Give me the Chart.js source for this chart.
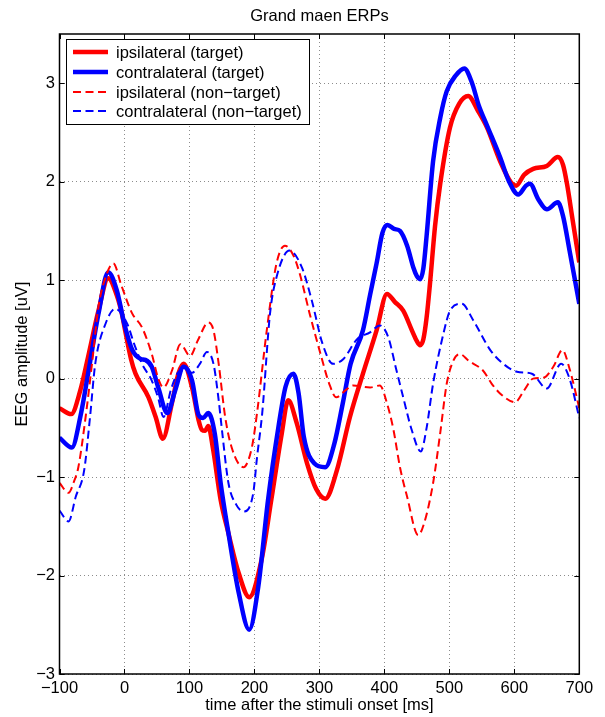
<!DOCTYPE html>
<html>
<head>
<meta charset="utf-8">
<script src="https://cdn.jsdelivr.net/npm/chart.js@4.4.1/dist/chart.umd.min.js"></script>
<style>
  html, body { margin: 0; padding: 0; background: #fff; }
  #wrap { width: 605px; height: 717px; position: relative; }
</style>
</head>
<body>
<div id="wrap"><canvas id="c" width="605" height="717"></canvas></div>
<script>
// ---- Data ----
const chartTitle = 'Grand maen ERPs';
const xTitle = 'time after the stimuli onset [ms]';
const yTitle = 'EEG amplitude [uV]';
const xTicks = [-100, 0, 100, 200, 300, 400, 500, 600, 700];
const yTicks = [-3, -2, -1, 0, 1, 2, 3];
const seriesNames = ['ipsilateral (target)', 'contralateral (target)', 'ipsilateral (non\u2212target)', 'contralateral (non\u2212target)'];

// ipsilateral (target)
const tIpsiT = [-100,-82,-68,-56,-40,-25,-12,-4,1,10,17,37,48,59,73,83,91,104,114,119,124,129,136,148,160,176,192,211,226,242,252,265,281,295,309,327,347,367,388,404,416,429,443,450,455,460,465,470,478,486,501,515,529,544,558,578,595,603,615,629,650,667,675,681,690,700];
const vIpsiT = [-0.30,-0.36,-0.12,0.22,0.69,1.02,0.85,0.66,0.49,0.20,0.05,-0.19,-0.39,-0.61,-0.25,0.05,0.15,-0.09,-0.42,-0.52,-0.53,-0.48,-0.70,-1.23,-1.57,-1.98,-2.22,-1.84,-1.23,-0.56,-0.22,-0.45,-0.86,-1.12,-1.22,-0.93,-0.39,0.05,0.49,0.86,0.78,0.69,0.48,0.38,0.34,0.40,0.62,0.95,1.55,1.98,2.55,2.79,2.87,2.72,2.55,2.21,1.99,1.96,2.07,2.13,2.16,2.25,2.17,1.98,1.60,1.18];

// contralateral (target)
const tContraT = [-100,-81,-68,-56,-40,-25,-12,0,12,25,32,42,52,66,78,91,104,114,121,129,139,148,160,176,192,206,221,237,248,260,268,276,292,309,323,336,348,367,378,388,397,405,415,424,435,445,450,455,460,465,475,486,496,510,523,535,545,558,578,592,606,618,624,637,650,667,675,685,700];
const vContraT = [-0.60,-0.70,-0.39,0.05,0.66,1.08,0.90,0.55,0.29,0.20,0.19,0.12,-0.09,-0.35,-0.12,0.12,-0.02,-0.37,-0.40,-0.35,-0.56,-1.06,-1.57,-2.18,-2.55,-2.11,-1.23,-0.49,-0.08,0.05,-0.15,-0.59,-0.86,-0.90,-0.66,-0.25,0.15,0.49,0.85,1.17,1.48,1.56,1.52,1.50,1.35,1.12,1.04,1.01,1.12,1.45,2.21,2.65,2.92,3.08,3.15,3.00,2.78,2.57,2.25,2.00,1.87,1.96,1.98,1.82,1.72,1.79,1.65,1.30,0.76];

// ipsilateral (non-target)
const tIpsiN = [-100,-86,-78,-71,-60,-50,-40,-28,-17,-5,12,27,42,52,60,73,86,101,113,129,137,145,155,165,183,196,204,219,234,247,260,270,285,303,315,326,340,352,378,393,404,414,424,435,452,462,475,486,496,506,516,530,552,565,578,601,615,629,645,660,674,685,700];
const vIpsiN = [-1.06,-1.16,-1.05,-0.90,-0.40,0.15,0.73,1.05,1.17,0.95,0.66,0.52,0.25,0.00,-0.09,0.08,0.35,0.23,0.39,0.57,0.49,0.15,-0.39,-0.70,-0.90,-0.70,-0.35,0.49,1.17,1.35,1.25,1.06,0.66,0.22,-0.05,-0.19,-0.12,-0.07,-0.09,-0.07,-0.25,-0.52,-0.90,-1.20,-1.59,-1.45,-1.06,-0.55,-0.05,0.18,0.25,0.18,0.08,-0.05,-0.15,-0.24,-0.12,0.00,0.01,0.12,0.29,0.10,-0.30];

// contralateral (non-target)
const tContraN = [-100,-86,-75,-62,-53,-45,-29,-14,4,15,27,42,52,60,72,86,104,116,127,137,145,150,160,172,183,198,204,212,224,234,254,273,288,305,321,337,358,378,393,406,418,429,442,456,465,475,491,501,519,537,563,583,604,627,650,672,685,700];
const vContraN = [-1.34,-1.45,-1.20,-0.93,-0.39,0.15,0.56,0.71,0.56,0.35,0.15,-0.02,-0.20,-0.39,-0.10,0.08,0.06,0.15,0.27,0.15,-0.22,-0.52,-1.06,-1.28,-1.35,-1.17,-0.80,-0.35,0.66,1.03,1.30,1.13,0.80,0.35,0.15,0.20,0.40,0.47,0.54,0.42,0.10,-0.19,-0.52,-0.74,-0.50,-0.05,0.46,0.69,0.76,0.59,0.29,0.15,0.07,0.05,-0.10,0.15,0.00,-0.40];

// ---- Styling ----
const FONT = '"Liberation Sans", Arial, Helvetica, sans-serif';
const FS = 16.5;
const RED = '#ff0000', BLUE = '#0000ff';
const SOLID_W = 4.5, DASH_W = 2, DASH = [8, 4.5];

function pts(t, v) { return t.map((x, i) => ({ x: x, y: v[i] })); }

const styles = [
  { color: RED, width: SOLID_W, dash: [] },
  { color: BLUE, width: SOLID_W, dash: [] },
  { color: RED, width: DASH_W, dash: DASH },
  { color: BLUE, width: DASH_W, dash: DASH }
];
const dataPairs = [[tIpsiT, vIpsiT], [tContraT, vContraT], [tIpsiN, vIpsiN], [tContraN, vContraN]];

const datasets = dataPairs.map((p, i) => ({
  label: seriesNames[i],
  data: pts(p[0], p[1]),
  borderColor: styles[i].color,
  backgroundColor: styles[i].color,
  borderWidth: styles[i].width,
  borderDash: styles[i].dash,
  borderJoinStyle: 'round',
  pointRadius: 0,
  fill: false,
  cubicInterpolationMode: 'monotone',
  order: 3 - i
}));

const framePlugin = {
  id: 'frame',
  afterDraw(chart) {
    const { ctx, chartArea: a, scales } = chart;
    ctx.save();
    // inward ticks
    ctx.strokeStyle = '#000';
    ctx.lineWidth = 1;
    const tl = 5;
    xTicks.forEach(v => {
      const x = Math.round(scales.x.getPixelForValue(v)) + 0.5;
      ctx.beginPath();
      ctx.moveTo(x, a.bottom); ctx.lineTo(x, a.bottom - tl);
      ctx.moveTo(x, a.top); ctx.lineTo(x, a.top + tl);
      ctx.stroke();
    });
    yTicks.forEach(v => {
      const y = Math.round(scales.y.getPixelForValue(v)) + 0.5;
      ctx.beginPath();
      ctx.moveTo(a.left, y); ctx.lineTo(a.left + tl, y);
      ctx.moveTo(a.right, y); ctx.lineTo(a.right - tl, y);
      ctx.stroke();
    });
    // box
    ctx.lineWidth = 1.5;
    ctx.strokeRect(a.left, a.top, a.right - a.left, a.bottom - a.top);
    // title
    ctx.fillStyle = '#000';
    ctx.font = FS + 'px ' + FONT;
    ctx.textAlign = 'center';
    ctx.textBaseline = 'middle';
    ctx.fillText(chartTitle, (a.left + a.right) / 2, 16);
    // legend
    const lx = 66, ly = 39, lw = 243, lh = 85;
    ctx.fillStyle = '#fff';
    ctx.fillRect(lx, ly, lw, lh);
    ctx.lineWidth = 1;
    ctx.strokeStyle = '#000';
    ctx.strokeRect(lx + 0.5, ly + 0.5, lw, lh);
    const rows = [52, 72, 92, 111];
    rows.forEach((ry, i) => {
      const s = styles[i];
      ctx.beginPath();
      ctx.strokeStyle = s.color;
      ctx.lineWidth = s.width;
      ctx.setLineDash(s.dash);
      ctx.moveTo(73, ry); ctx.lineTo(108, ry);
      ctx.stroke();
      ctx.setLineDash([]);
      ctx.fillStyle = '#000';
      ctx.textAlign = 'left';
      ctx.textBaseline = 'middle';
      ctx.fillText(seriesNames[i], 116, ry + 1);
    });
    ctx.restore();
  }
};

new Chart(document.getElementById('c'), {
  type: 'line',
  data: { datasets: datasets },
  options: {
    responsive: false,
    animation: false,
    devicePixelRatio: 1,
    layout: { padding: { top: 34, right: 25.7, left: 0, bottom: 0 } },
    plugins: { legend: { display: false }, tooltip: { enabled: false }, title: { display: false } },
    scales: {
      x: {
        type: 'linear',
        min: -100, max: 700,
        afterBuildTicks: s => { s.ticks = xTicks.map(v => ({ value: v })); },
        afterFit: s => { s.height = 43; },
        grid: { color: 'rgba(0,0,0,0.45)', borderDash: [1, 3], drawTicks: false, lineWidth: 1 },
        border: { display: false, dash: [1, 3] },
        ticks: { color: '#000', font: { family: FONT, size: FS }, padding: 5, maxRotation: 0,
                 callback: v => String(v).replace('-', '\u2212') },
        title: { display: true, text: xTitle, color: '#000', font: { family: FONT, size: FS }, padding: { top: 0, bottom: 2 } }
      },
      y: {
        type: 'linear',
        min: -3, max: 3.5,
        afterBuildTicks: s => { s.ticks = yTicks.map(v => ({ value: v })); },
        afterFit: s => { s.width = 59.5; },
        grid: { color: 'rgba(0,0,0,0.45)', borderDash: [1, 3], drawTicks: false, lineWidth: 1 },
        border: { display: false, dash: [1, 3] },
        ticks: { color: '#000', font: { family: FONT, size: FS }, padding: 4.5,
                 callback: v => String(v).replace('-', '\u2212') },
        title: { display: true, text: yTitle, color: '#000', font: { family: FONT, size: FS }, padding: { top: 13, bottom: 0 } }
      }
    }
  },
  plugins: [framePlugin]
});
</script>
</body>
</html>
